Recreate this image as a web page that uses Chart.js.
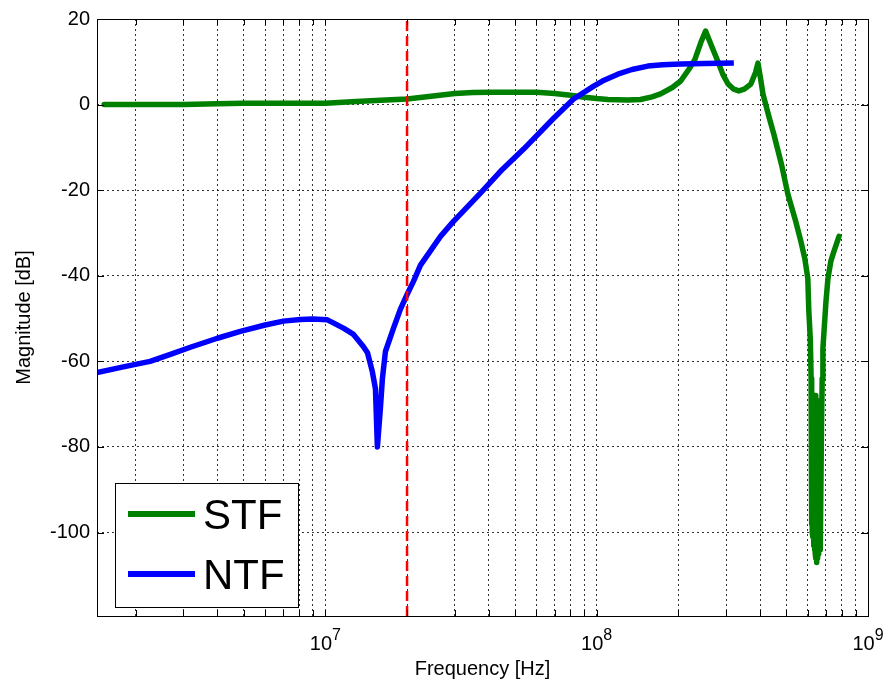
<!DOCTYPE html>
<html>
<head>
<meta charset="utf-8">
<script src="https://cdn.jsdelivr.net/npm/chart.js@4/dist/chart.umd.min.js"></script>
<style>
  body { margin: 0; background: #fff; }
  #wrap { width: 883px; height: 683px; }
</style>
</head>
<body>
<div id="wrap"><canvas id="myChart" width="883" height="683"></canvas></div>
<script>
// STF curve (Hz, dB)
const stfFreq = [1.53e6, 2.0e6, 3.0e6, 4.0e6, 5.0e6, 7.0e6, 1.0e7, 1.3e7, 1.6e7, 2.0e7,
    2.5e7, 3.0e7, 3.5e7, 4.0e7, 5.0e7, 6.0e7, 7.0e7, 8.0e7, 9.0e7, 1.0e8,
    1.1e8, 1.3e8, 1.45e8, 1.6e8, 1.72e8, 1.9e8, 2.04e8, 2.2e8, 2.3e8, 2.42e8,
    2.52e8, 2.64e8, 2.8e8, 2.92e8, 3.05e8, 3.2e8, 3.34e8, 3.5e8, 3.7e8, 3.85e8,
    3.93e8, 4.02e8, 4.1e8, 4.3e8, 4.5e8, 4.8e8, 5.07e8, 5.4e8, 5.66e8, 5.85e8,
    6.0e8, 6.05e8, 6.13e8, 6.17e8,
    6.19e8, 6.21e8, 6.23e8, 6.25e8, 6.27e8, 6.29e8, 6.31e8, 6.33e8, 6.35e8, 6.37e8,
    6.39e8, 6.41e8, 6.43e8, 6.45e8, 6.47e8, 6.49e8, 6.51e8, 6.53e8, 6.55e8, 6.57e8,
    6.59e8, 6.61e8, 6.63e8, 6.65e8, 6.67e8, 6.7e8, 6.74e8, 6.78e8, 6.82e8,
    7.0e8, 7.12e8, 7.3e8, 7.49e8, 7.82e8];
const stfMag = [0, 0, 0, 0.2, 0.3, 0.3, 0.3, 0.7, 1.0, 1.3,
    2.0, 2.6, 2.8, 2.9, 2.9, 2.9, 2.6, 2.2, 1.7, 1.4,
    1.2, 1.1, 1.2, 1.8, 2.5, 4.0, 5.5, 8.5, 10.5, 14.5,
    17.2, 14, 10, 7, 4.8, 3.6, 3.2, 3.6, 4.8, 7.5,
    9.7, 6, 2.5, -2.5, -7, -14, -21, -27, -32, -36,
    -40.6, -48, -55, -64,
    -98, -68, -100, -68, -101, -68, -103, -68, -104, -68,
    -105, -68, -106, -69, -107, -70, -106, -72, -105, -74,
    -105, -76, -104, -80, -104, -104, -75, -64, -57,
    -46, -40.6, -36.5, -34.3, -30.8];

// NTF curve (Hz, dB)
const ntfFreq = [1.44e6, 1.8e6, 2.26e6, 2.7e6, 3.18e6, 4.0e6, 4.86e6, 6.0e6, 7.0e6, 8.09e6, 9.0e6,
    1.017e7, 1.07e7, 1.17e7, 1.27e7, 1.38e7, 1.43e7, 1.49e7, 1.53e7, 1.555e7, 1.595e7,
    1.623e7, 1.665e7, 1.782e7, 1.891e7, 2.007e7, 2.112e7, 2.242e7, 2.657e7, 2.967e7, 3.73e7,
    4.42e7, 5.38e7, 5.71e7, 6.94e7, 8.22e7, 9.75e7, 1.05e8, 1.196e8, 1.35e8, 1.543e8,
    1.75e8, 2.042e8, 2.5e8, 3.203e8];
const ntfMag = [-62.6, -61.3, -60, -58.3, -56.7, -54.6, -53, -51.5, -50.6, -50.2, -50.1,
    -50.3, -51, -52.3, -53.7, -56.5, -58, -62.4, -66.4, -80, -71,
    -64, -57.7, -52.3, -47.8, -44.2, -41.3, -37.5, -30.8, -27.3, -20.7,
    -15.6, -10.4, -8.7, -3.2, 1.3, 4.3, 5.5, 7.1, 8.2, 9.0,
    9.3, 9.5, 9.6, 9.7];

// red dashed marker frequency
const markerFreq = 2e7;

// axes
const xMin = 1.44e6, xMax = 1e9;
const yMin = -119.5, yMax = 20;
const xDecades = [1e7, 1e8, 1e9];
const xDecadeLabels = ['7', '8', '9'];
const yTicks = [-100, -80, -60, -40, -20, 0, 20];

let xTicks = [];
for (let e = 6; e <= 8; e++) {
    for (let m = 1; m <= 9; m++) {
        let v = m * Math.pow(10, e);
        if (v >= xMin) xTicks.push(v);
    }
}
xTicks.push(1e9);

function toPoints(xs, ys) {
    let pts = [];
    for (let i = 0; i < xs.length; i++) {
        pts.push({x: xs[i], y: ys[i]});
    }
    return pts;
}

const FONT = "'Liberation Sans', Arial, sans-serif";

const matlabFrame = {
    id: 'matlabFrame',
    afterDraw(chart) {
        const ctx = chart.ctx;
        const a = chart.chartArea;
        const xs = chart.scales.x;
        const ys = chart.scales.y;
        ctx.save();
        ctx.setLineDash([]);
        ctx.strokeStyle = '#000';
        ctx.lineWidth = 1;

        // inward tick marks
        ctx.beginPath();
        xTicks.forEach(v => {
            let px = Math.round(xs.getPixelForValue(v)) + 0.5;
            ctx.moveTo(px, a.bottom); ctx.lineTo(px, a.bottom - 6);
            ctx.moveTo(px, a.top); ctx.lineTo(px, a.top + 6);
        });
        yTicks.forEach(v => {
            let py = Math.round(ys.getPixelForValue(v)) + 0.5;
            ctx.moveTo(a.left, py); ctx.lineTo(a.left + 7, py);
            ctx.moveTo(a.right, py); ctx.lineTo(a.right - 7, py);
        });
        ctx.stroke();

        // box
        ctx.strokeRect(Math.round(a.left) + 0.5, Math.round(a.top) + 0.5,
            Math.round(a.right - a.left), Math.round(a.bottom - a.top));

        // decade labels 10^n
        ctx.fillStyle = '#000';
        ctx.textBaseline = 'alphabetic';
        ctx.textAlign = 'left';
        xDecades.forEach((v, i) => {
            let px = xs.getPixelForValue(v);
            ctx.font = '20px ' + FONT;
            let w1 = ctx.measureText('10').width;
            ctx.font = '16px ' + FONT;
            let w2 = ctx.measureText(xDecadeLabels[i]).width;
            let x0 = px - (w1 + w2) / 2;
            ctx.font = '20px ' + FONT;
            ctx.fillText('10', x0, 650);
            ctx.font = '16px ' + FONT;
            ctx.fillText(xDecadeLabels[i], x0 + w1, 640);
        });

        // legend box
        const lx = 115, ly = 483, lw = 183, lh = 124;
        ctx.fillStyle = '#fff';
        ctx.fillRect(lx, ly, lw, lh);
        ctx.strokeRect(lx + 0.5, ly + 0.5, lw, lh);
        const items = [chart.data.datasets[0], chart.data.datasets[1]];
        const rows = [514, 574];
        items.forEach((ds, i) => {
            ctx.strokeStyle = ds.borderColor;
            ctx.lineWidth = 6;
            ctx.beginPath();
            ctx.moveTo(128, rows[i]);
            ctx.lineTo(195, rows[i]);
            ctx.stroke();
            ctx.fillStyle = '#000';
            ctx.font = '42px ' + FONT;
            ctx.fillText(ds.label, 203, rows[i] + 15);
        });
        ctx.restore();
    }
};

const ctx = document.getElementById('myChart');

new Chart(ctx, {
    type: 'line',
    data: {
        datasets: [{
            label: 'STF',
            data: toPoints(stfFreq, stfMag),
            borderColor: '#008000',
            borderWidth: 5.5,
            pointRadius: 0,
            tension: 0,
            borderJoinStyle: 'round',
            borderCapStyle: 'round',
            order: 2
        }, {
            label: 'NTF',
            data: toPoints(ntfFreq, ntfMag),
            borderColor: '#0000ff',
            borderWidth: 5.5,
            pointRadius: 0,
            tension: 0,
            borderJoinStyle: 'round',
            order: 1
        }, {
            label: 'marker',
            data: [{x: markerFreq, y: yMin}, {x: markerFreq, y: yMax}],
            borderColor: '#ff0000',
            borderWidth: 2.5,
            borderDash: [10, 5],
            pointRadius: 0,
            order: 0
        }]
    },
    options: {
        responsive: false,
        animation: false,
        layout: { padding: { top: 18, right: 15, left: 0, bottom: 0 } },
        plugins: {
            legend: { display: false },
            tooltip: { enabled: false }
        },
        scales: {
            x: {
                type: 'logarithmic',
                min: xMin,
                max: xMax,
                afterBuildTicks: s => { s.ticks = xTicks.map(v => ({value: v})); },
                afterFit: s => { s.height = 67; },
                ticks: { display: false, autoSkip: false },
                grid: { color: 'rgba(0,0,0,0.8)', lineWidth: 1, drawTicks: false },
                border: { display: false, dash: [2, 3] },
                title: {
                    display: true,
                    text: 'Frequency [Hz]',
                    color: '#000',
                    font: { family: FONT, size: 20 },
                    padding: { top: 0, bottom: 2 }
                }
            },
            y: {
                min: yMin,
                max: yMax,
                afterBuildTicks: s => { s.ticks = yTicks.map(v => ({value: v})); },
                afterFit: s => { s.width = 97; },
                ticks: {
                    color: '#000',
                    padding: 7,
                    font: { family: FONT, size: 20 },
                    callback: v => String(v)
                },
                grid: { color: 'rgba(0,0,0,0.8)', lineWidth: 1, drawTicks: false },
                border: { display: false, dash: [2, 3] },
                title: {
                    display: true,
                    text: 'Magnitude [dB]',
                    color: '#000',
                    font: { family: FONT, size: 20 },
                    padding: { top: 12, bottom: 0 }
                }
            }
        }
    },
    plugins: [matlabFrame]
});
</script>
</body>
</html>
